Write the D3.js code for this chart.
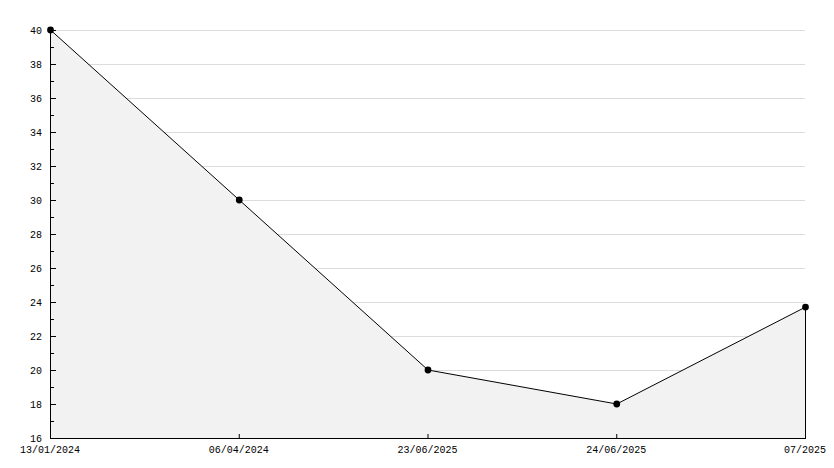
<!DOCTYPE html>
<html><head><meta charset="utf-8">
<script src="https://cdn.jsdelivr.net/npm/d3@7"></script>
<style>body{margin:0;background:#fff}svg{display:block}text{font-family:"Liberation Mono",monospace;font-size:10px;fill:#000}</style>
</head><body><svg id="c" width="834" height="468"></svg>
<script>
const categories = ["13/01/2024","06/04/2024","23/06/2025","24/06/2025","07/2025"];
const values = [40, 30, 20, 18, 23.7];
const yTicks = [16,18,20,22,24,26,28,30,32,34,36,38,40];
const yMinor = [17,19,21,23,25,27,29,31,33,35,37,39];

const svg = d3.select("#c");
const L = 50, R = 805, T = 30, B = 438;
const x = d3.scalePoint().domain(categories).range([L, R]);
const y = d3.scaleLinear().domain([16, 40]).range([B, T]);
const data = categories.map((c,i)=>({c, v: values[i]}));

// grid
svg.append("g").selectAll("line").data(yTicks.slice(1)).join("line")
  .attr("x1", L).attr("x2", R).attr("y1", d=>y(d)+0.5).attr("y2", d=>y(d)+0.5)
  .attr("stroke", "#dcdcdc").attr("stroke-width", 1);

// area
svg.append("path").datum(data)
  .attr("d", d3.area().x(d=>x(d.c)+0.5).y0(B).y1(d=>y(d.v)))
  .attr("fill", "#f2f2f2");

// right edge of area
svg.append("line").attr("x1", x(categories[4])+0.5).attr("x2", x(categories[4])+0.5)
  .attr("y1", y(values[4])).attr("y2", B).attr("stroke", "#000");

// line
svg.append("path").datum(data)
  .attr("d", d3.line().x(d=>x(d.c)+0.5).y(d=>y(d.v)))
  .attr("fill", "none").attr("stroke", "#000").attr("stroke-width", 1);

// markers
svg.append("g").selectAll("path").data(data).join("path")
  .attr("transform", d=>`translate(${x(d.c)+0.5},${y(d.v)})`)
  .attr("d", d3.symbol().type(d3.symbolCircle).size(36))
  .attr("fill", "#000");

// y axis
const ya = svg.append("g");
ya.append("line").attr("x1", L+0.5).attr("x2", L+0.5).attr("y1", T).attr("y2", B).attr("stroke", "#000");
ya.selectAll("line.maj").data(yTicks).join("line").attr("class","maj")
  .attr("x1", L).attr("x2", L+6).attr("y1", d=>y(d)+0.5).attr("y2", d=>y(d)+0.5).attr("stroke", "#000");
ya.selectAll("line.min").data(yMinor).join("line").attr("class","min")
  .attr("x1", L).attr("x2", L+4).attr("y1", d=>y(d)+0.5).attr("y2", d=>y(d)+0.5).attr("stroke", "#000");
ya.selectAll("text").data(yTicks).join("text")
  .attr("x", 42).attr("y", d=>y(d)+4).attr("text-anchor", "end").text(d=>d);

// x axis
const xa = svg.append("g");
xa.append("line").attr("x1", L).attr("x2", R+1).attr("y1", B+0.5).attr("y2", B+0.5).attr("stroke", "#000");
xa.selectAll("line.t").data(categories).join("line").attr("class","t")
  .attr("x1", d=>x(d)+0.5).attr("x2", d=>x(d)+0.5).attr("y1", B-4).attr("y2", B).attr("stroke", "#000");
xa.selectAll("text").data(categories).join("text")
  .attr("x", d=>x(d)).attr("y", B+15).attr("text-anchor", "middle").text(d=>d);
</script></body></html>
